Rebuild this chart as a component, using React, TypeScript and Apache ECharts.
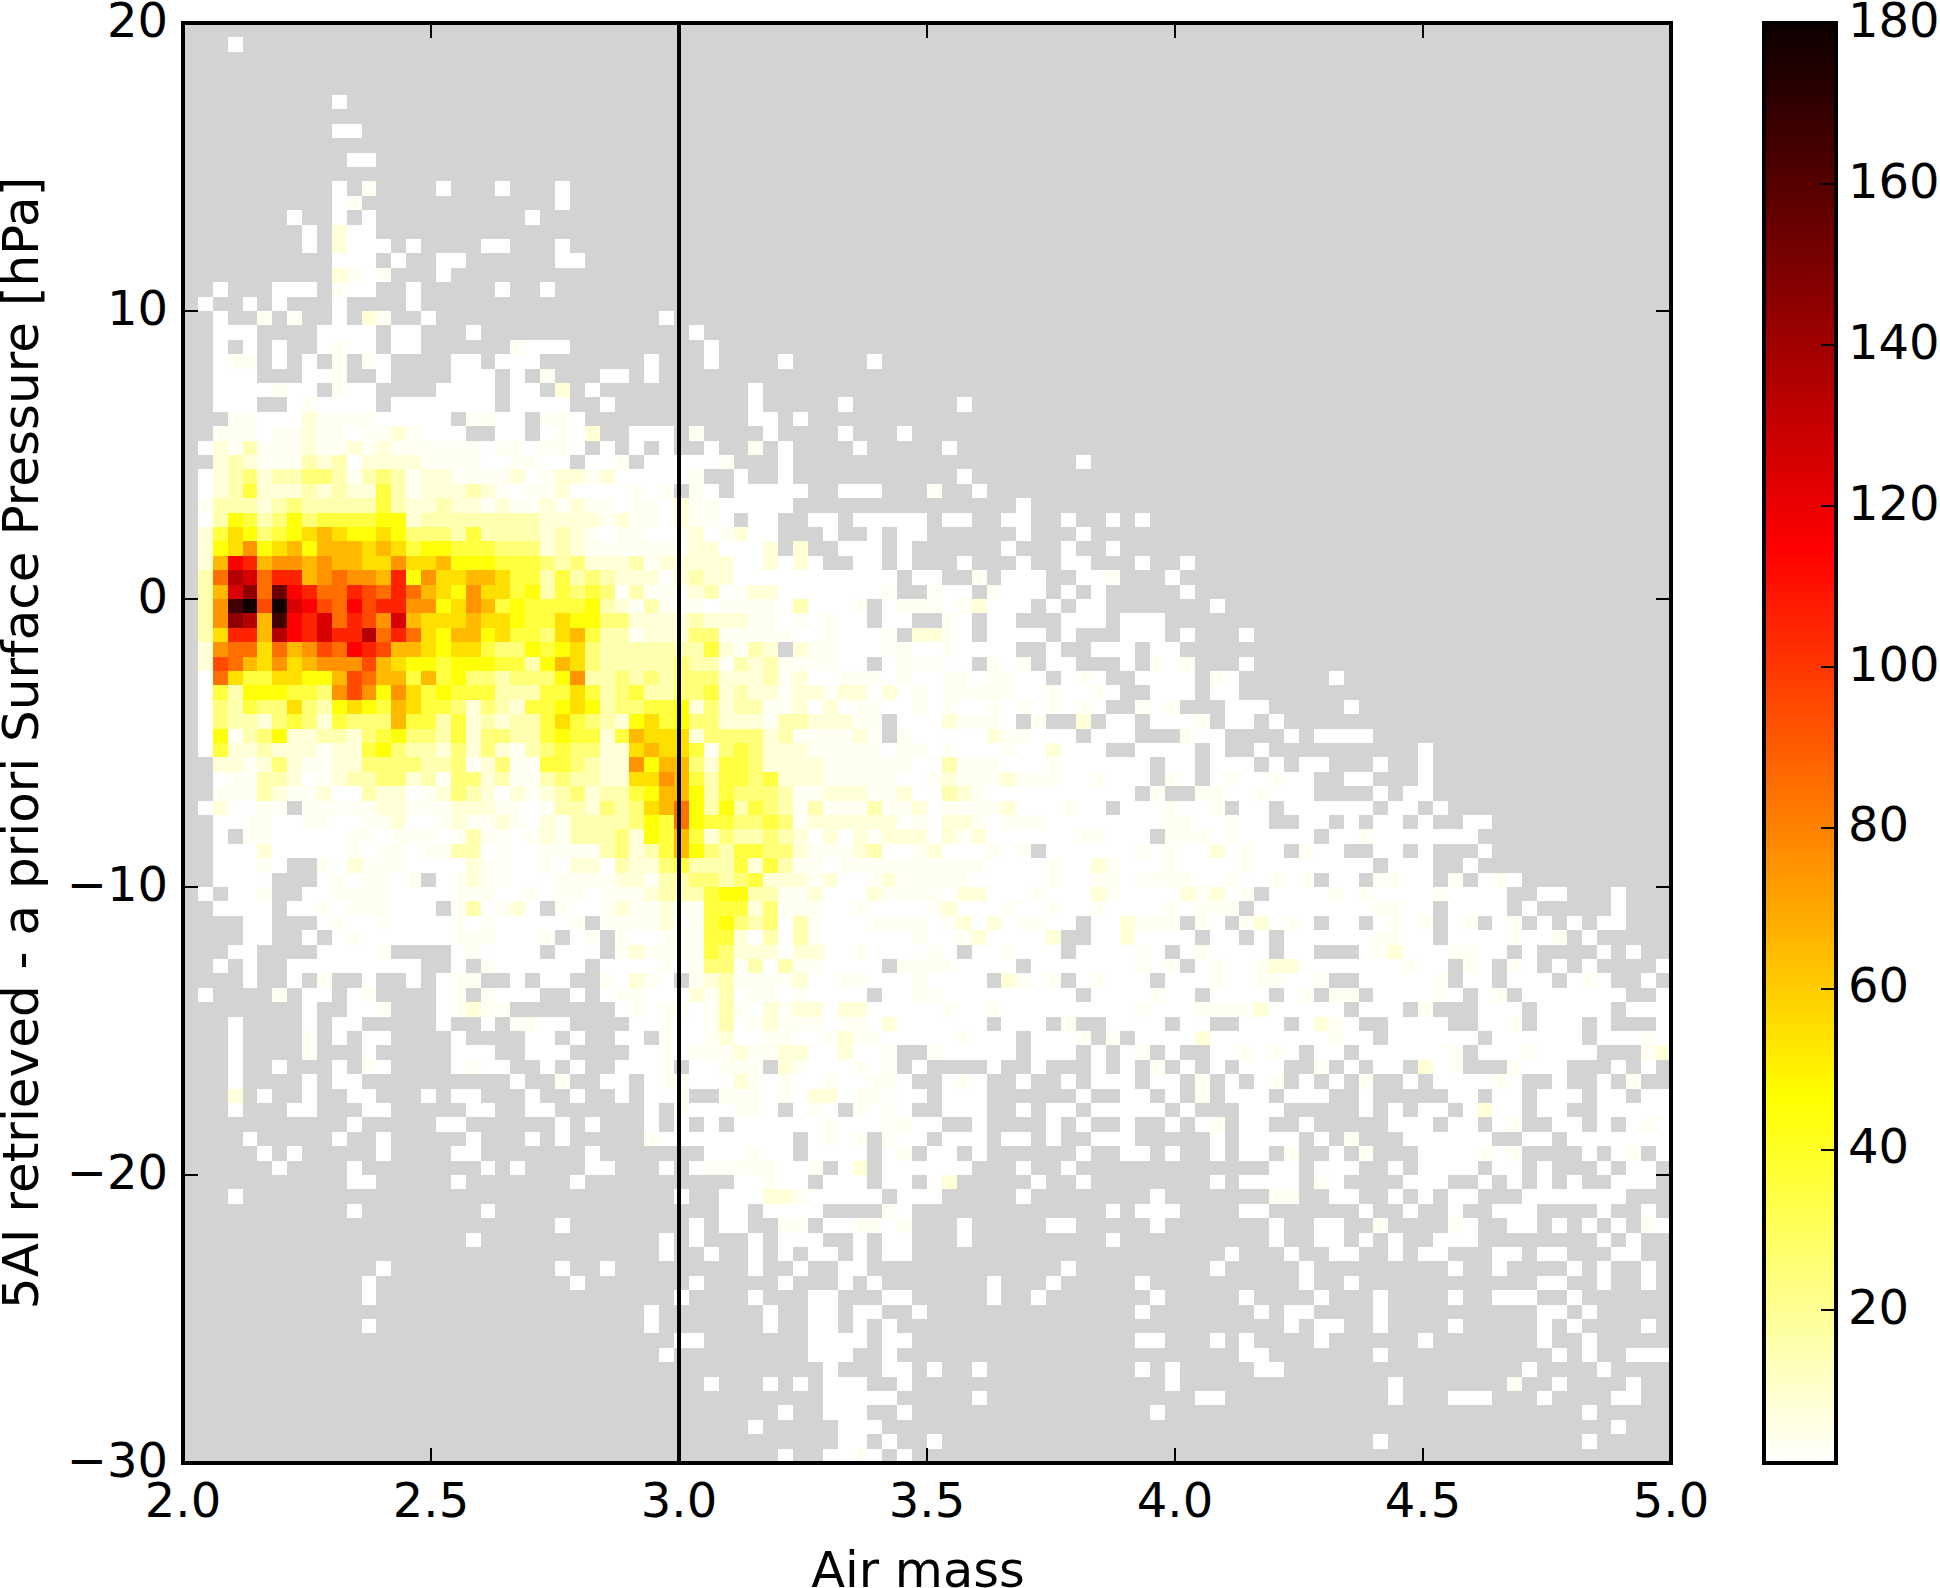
import React, { useEffect, useRef } from "react";
import * as echarts from "echarts";

const X_TICKS_MIN = 2;
const X_TICKS_MAX = 5;
const Y_TICKS_MIN = -30;
const Y_TICKS_MAX = 20;
const BIN_W = 0.03;
const BIN_H = 0.5;
const COLORBAR_TICKS = [20, 40, 60, 80, 100, 120, 140, 160, 180];
const X_LABEL = "Air mass";
const Y_LABEL = "5AI retrieved - a priori Surface Pressure [hPa]";

// counts per level code
const LEVEL_VALUES: Record<string, number> = {
  "0": 1, "1": 3, "2": 8, "3": 15, "4": 25, "5": 35, "6": 45, "7": 55, "8": 65, "9": 75,
  a: 85, b: 95, c: 105, d: 115, e: 125, f: 135, g: 145, h: 155, i: 165, j: 178,
};

// one entry per row from y=20 downwards: "startColumn:levels", "." or absence = empty bin
const CELL_ROWS: string[] = [
  "",
  "3:0",
  "",
  "",
  "",
  "10:0",
  "",
  "10:00",
  "",
  "11:00",
  "",
  "10:0 12:1 17:0 21:0 25:0",
  "10:01 25:0",
  "7:0 10:0 12:0 23:0",
  "8:0 10:200",
  "8:0 10:2000 15:0 20:00 25:0",
  "10:000 14:0 17:00 25:00",
  "10:2101 17:0",
  "2:0 6:000 10:100 15:0 21:0 24:0",
  "1:0 4:0 6:0 10:0 15:0",
  "2:0 5:1 7:1 10:0 12:21 16:0 32:0",
  "2:000 9:0000 14:00 19:0 34:0",
  "2:0 4:0 6:0 9:0100 14:00 22:1000 35:0",
  "2:011 6:0 8:0 10:1 12:10 18:00 21:000 31:0 35:0 40:0 46:0",
  "2:000 8:001 13:0 18:000 22:0 24:1 28:00 31:0",
  "2:0000100 10:100 17:0000 22:00 25:2 27:0 38:0",
  "2:000 7:010000 14:0000000 22:0000 28:0 38:0 44:0 52:0",
  "3:110002111100000 19:1100 24:110 38:00 41:0",
  "2:11101121101121000 21:00 24:010 27:2 30:000 34:1 39:0 44:0 48:0",
  "1:02131112112121111110110110 28:0 30:0 32:0 35:0 38:1 40:0 45:0 51:0",
  "2:232111323022221111001100 27:001 31:000001 40:0 60:0",
  "1:02342334431343122111120122120000 33:01 37:0 40:0 52:0",
  "1:02352223232253122232101120000101 34:10 37:00000 44:000 50:1 53:0",
  "1:133323433333532232212112121101102 34:1100000 56:0",
  "1:036534645555662333333332222121102 34:110 38:00 42:00 45:00000 51:00 55:00 59:0 62:0 64:0",
  "1:2576456787 11:6676444353 21:3332321011 31:001 34:201200 43:0 46:0 48:00 56:0 60:0",
  "1:2679678688 11:8787566555 21:4442321111 31:111 34:220002 41:2 44:000 48:0 55:0 59:0 62:0",
  "1:28dc899898 11:8779778666 21:5554342223 31:122 34:222002020 45:00 48:0 52:0 56:0 59:00 64:0 67:0",
  "1:3afeacc89a 11:998c697788 21:7553534322 31:202 34:32200000000000 49:00 53:1 55:000 60:001 66:0",
  "1:38egahdcaa 11:cbaca87697 21:7563545413 31:111 34:23012200000001 50:100 54:1000 59:0 61:0 67:0",
  "1:39ijbjedba 11:dbcc996798 21:5655556321 31:311 34:101111030001 47:0111012000 58:0 60:00 69:0",
  "1:39gf8idcea 11:cb9e877787 21:7655766442 31:222 34:322211010100 47:00 51:10 54:00 59:000 63:000",
  "1:37cc8fdcec 11:cfaca76886 21:7554785331 31:222 34:44111110010001 49:2210 54:0000 59:0 63:000 67:0 71:0",
  "1:29aa7a89ba 11:dcb8876775 21:4465674333 31:333 34:352132 41:211000110010000 58:0 61:000 65:00",
  "1:2ba8797899 11:9b87665666 21:5536874333 31:334 34:331323111100 47:011100 54:101 58:00 63:0 65:101 71:0",
  "1:0a75577668 11:ba88585644 21:3444693343 31:434 34:442223120011101001101100 59:010 64:0000 69:10 77:0",
  "1:0536665549 11:b969756555 21:3335575345 31:334 34:45232212212202010111110010010 65:000 69:00",
  "1:0435447436 11:7658755424 21:3255676344 31:556 34:24233112020110 48:010100101010 60:10 64:101 70:000 78:0",
  "1:0433245425 11:4448553523 21:2335754326 31:756 34:4422213322211 48:00021110 57:1 60:2 62:00 65:000 68:1 70:00 73:0",
  "1:0613462233 11:2456443524 21:4335655258 31:777 34:2444423111121 48:100000211000 61:000 67:100 74:0 76:0000",
  "1:0522322212 11:2564332424 21:2134544227 31:877 34:5145422211111011010001002000 64:0000 69:0 72:0 83:0",
  "2:2212421122 12:4444334124 22:1155432296 32:88 34:4255422221111110031110001000000 66:00 69:000 73:0 75:00 80:0 83:0",
  "2:0113320123 12:3442314423 22:1134332277 32:98 34:5355452221111100121112111001000 66:10 69:0100100 78:00 83:0",
  "2:1113211200 12:3220124320 22:2123423356 32:88 34:635444311222112003210000000000 65:1 68:11001000 80:0 82:00",
  "1:020011.111 11:1122111222 21:1101332434 31:78a 34:6363543131113112011112000100 63:000 66:1001 71:00 74:000000 81:00 84:0",
  "2:0011001100 12:1120012112 22:1021333346 32:5a 34:6554454122222201022101110000000000 66:11 68:00100 75:00 78:0 80:00 83:0 86:00",
  "2:0.11000001 12:1011101311 22:0121333426 32:58 34:5243343202021222021200000011000 66:1110100000 77:0010000000",
  "2:0002000001 12:0110113301 22:0011113423 32:58 34:64355442111230012000101 58:0000001010020100 75:100 80:00 83:0 87:0",
  "2:00010..102 12:1110000211 22:0010220322 32:45 34:3335253110 44:1111111111 54:0000100210 64:0010000100 74:000000 81:000 86:0",
  "2:0000...010 12:1101.01211 22:0001111221 32:33 34:4434522212 44:0012111110 54:0000100110 64:1111001001 74:01 77:00 80:1100 85:1 87:010",
  "1:0.001..001 11:1110000111 21:0010110111 31:233 34:3566331120 44:0021111022 54:0001000210 64:00021201 73:0000 77:101 80:00001 85:0000 91:00 96:0",
  "2:0000.00101 12:11000.1301 22:20.100121121 34:1555241110 44:0100001200 54:0100100100 64:0010111 72:00000000 80:1100 85:0000 90:0 96:0",
  "4:00 9:01001 14:00001 19:01 21:000001 28:11112 33:0 34:1564340310 44:0011110120 54:201100.002 64:111 68:10 71:12010 77:00 80:0101 85:01 88:01 91:0 93:0 95:00",
  "4:00 8:0 10:01000000 18:111 21:0001 26:01 29:10011 34:1552030310 44:0000010012 54:00002..002 64:0000 69:00 72:0 74:000000 80:1100 85:0000 89:1001 94:0",
  "3:00 9:00001 18:010000 25:000 29:12111 34:1542220220 44:01000010.0 54:01000.0000 64:10 67:010000 74:00 79:012 82:000 85:11 87:00 90:0 95:0 97:0",
  "2:0 4:0 7:000000000 18:0 20:1000000 28:000010 34:1441303110 44:000.111100 54:00.0000000 64:101 68:01001 73:22 75:0000000 82:100 86:10 89:10 92:0 94:0 99:0",
  "4:0 7:0 9:1 12:0 15:0 17:011 22:0 24:00 28:10210 34:1231111200 44:1100010000 54:.2101.0100 64:0 66:00010011001 79:000001 86:00 89:000 93:010 98:0",
  "1:0 6:1 8:00 11:01 17:01 20:1000 26:0 28:011000 34:2130110100 44:00.0011000 54:000000.000 64:0100 69:0000 74:01 77:11 80:000010 87:01 90:0000000 99:0",
  "8:0 11:001 17:01211 29:01011 34:0131021220 44:2200000100 54:1000000000 64:1000 68:1111200000 79:000 83:1 87:000 91:00000 97:000",
  "3:0 8:0 10:00 17:0 20:0 22:1100 30:0010 34:0130121110 44:1102000000 55:000 59:1 62:0000 67:00 71:000 75:0210 81:0000 87:001 91:000 95:0 99:0",
  "3:0 8:1 10:0 12:00 18:0 23:00 26:0 29:00 32:10 34:0120011001 44:2110000010 54:00.0001.1. 64:0000 68:200000000 77:100 81:000000 88:000000 95:00010",
  "3:0 8:1 12:0 18:000 23:000 30:0010 34:1112112200 44:2001..1000 54:00.000.0.0 64:1 66:0 69:001010 76:00 79:000000 85:1 87:0001 91:0000 98:12",
  "3:0 6:0 10:0 12:10 18:0100 24:0 26:0 29:0001 34:00111.2100 44:0101.0.... 54:0..0...0.0 65:1 67:0 69:0 71:000 76:1 78:0 80:00 83:201 89:1000 96:0 98:0",
  "3:0 8:0 10:00 22:0 25:1 28:00 31:011 34:0002101001 44:00110..010 54:..0..0.000 65:00 68:1 70:0 72:01 75:0 77:0 79:1 82:0 84:000010 92:0 95:0 97:1",
  "3:2 5:0 8:0 11:00 16:0 18:00 23:0 26:0 29:0 31:001 34:..11101022 44:011000.000 54:......0..0 64:0 66:0 68:1 70:000 74:000 79:0 85:00 88:00 91:000 95:00 98:00",
  "3:0 7:00 12:00 19:00 23:00 31:0 33:1 34:000110.010 44:.1010..000 54:..0.00.000 64:00 67:0 71:000 79:0 81:0 83:00 86:0200 91:00 95:00000",
  "11:0 17:00 25:0 27:0 31:0 33:0 34:.0.0000001 44:0001100..0 54:....0.0..0 66:0 68:01 71:00 75:0 81:000 85:00 88:01 92:00 95:0 97:010",
  "4:0 10:0 13:0 19:0 23:0 25:0 31:100 34:0000000.01 44:01.100.000 54:.00.0..000 69:0 71:0000 76:0 78:1 82:000000 90:00 93:0000000",
  "5:0 7:0 13:0 18:00 27:0 34:.000100.00 44:00.01.00.0 60:0 63:00 66:0 69:0 71:00 74:1 77:0 79:1 83:0000101 94:0 96:01 99:0",
  "6:0 11:0 20:0 22:0 27:00 32:0 34:011111001. 44:02.000000. 56:0 59:0 73:00 76:000 81:0 83:0000 88:00 91:0 95:0 97:00",
  "11:00 18:0 26:0 37:00100 43:000 47:00 50:02 57:0 60:0 69:0 71:0000 76:10 82:000 87:0 89:0 91:0 93:0 96:000",
  "3:0 33:0 36:000221 42:00000 48:000 56:0 65:0 73:11 77:00 81:0 83:0 85:00 90:0000000",
  "11:0 20:0 36:00 39:0000 47:10 62:0 64:000 71:00 79:0 82:0 85:0 88:000 95:0 98:0",
  "25:0 34:0 36:00 40:11 43:001101 52:0 58:00 65:0 73:0 76:00 80:1 85:10 89:00 92:0 94:0 96:0 98:10",
  "19:0 32:0 34:0 38:0 40:000 45:0 47:00 52:0 62:0 73:0 76:00 79:0 81:0 84:000 95:0 97:0",
  "32:0 35:0 38:0 40:0 42:00 45:0 47:00 70:0 74:0 77:00 81:0 83:00 88:00 91:00 96:00",
  "13:0 25:0 28:0 38:0 41:0 44:00 59:0 69:0 75:0 85:0 88:0 93:0 95:0 98:0",
  "12:0 26:0 34:0 40:0 44:0 46:0 54:0 58:0 64:0 75:0 78:0 91:00 95:0 98:0",
  "12:0 33:0 38:0 42:00 47:00 54:0 57:0 65:0 71:0 76:0 80:0 85:0 88:000 93:0",
  "31:0 39:0 42:00 45:00 49:0 64:0 72:0 74:00 80:0 91:00 94:0",
  "12:0 31:0 39:0 42:00 45:0 47:0 74:0 76:00 80:0 85:0 91:0 93:0 98:0",
  "33:00 42:0000 47:00 64:00 69:0 71:0 76:0 83:0 91:0 94:0",
  "32:0 42:000 47:0 71:00 80:0 92:0 94:0 97:000",
  "43:0 47:00 50:0 53:0 64:0 66:0 72:00 90:0 95:0",
  "35:0 39:0 41:0 43:000 48:0 66:0 81:0 89:1 92:0 97:0",
  "43:00000 53:0 68:00 81:0 85:000 91:0 96:00",
  "40:0 43:000 48:0 65:0 94:0",
  "38:0 44:000 96:0",
  "44:00 47:0 50:0 80:0 94:0",
  "40:0 43:0010 48:0",
];

// x (left edge), y (top edge), count
const cells: number[][] = [];
CELL_ROWS.forEach((row, k) => {
  row.split(" ").filter(Boolean).forEach((seg) => {
    const [start, codes] = seg.split(":");
    [...codes].forEach((code, i) => {
      if (code === ".") return;
      const col = Number(start) + i;
      cells.push([X_TICKS_MIN + col * BIN_W, Y_TICKS_MAX - k * BIN_H, LEVEL_VALUES[code]]);
    });
  });
});

const V_MIN = 1;
const V_MAX = 180;
const clamp = (v: number) => Math.max(0, Math.min(1, v));
function hotR(value: number): string {
  const x = 1 - clamp((value - V_MIN) / (V_MAX - V_MIN));
  const r = clamp(0.0416 + (x / 0.365) * 0.9584);
  const g = clamp((x - 0.365) / 0.381);
  const b = clamp((x - 0.746) / 0.254);
  const h = (c: number) => Math.round(c * 255);
  return `rgb(${h(r)},${h(g)},${h(b)})`;
}

const FONT = "DejaVu Sans";
const TICK_FONT_SIZE = 48;
const X_TITLE_FONT_SIZE = 49.4;
const Y_TITLE_FONT_SIZE = 50;
const SPINE = { color: "#000", width: 4, cap: "square" as const };
const TICK = { inside: true, length: 15, lineStyle: { color: "#000", width: 2 } };
const AXIS_BASE = { type: "value" as const, z: 10, splitLine: { show: false } };

function frameAxis(extra: object) {
  return {
    ...AXIS_BASE,
    axisLine: { show: true, onZero: false, lineStyle: SPINE },
    ...extra,
  };
}

export default function App() {
  const ref = useRef<HTMLDivElement>(null);
  useEffect(() => {
    const chart = echarts.init(ref.current!, undefined, { renderer: "svg" });
    const xRange = { min: X_TICKS_MIN, max: X_TICKS_MAX, interval: 0.5 };
    const yRange = { min: Y_TICKS_MIN, max: Y_TICKS_MAX, interval: 10 };
    const cbX = { min: 0, max: 1 };
    const cbY = { min: V_MIN, max: V_MAX };
    const noMarks = { axisTick: { show: false }, axisLabel: { show: false } };
    chart.setOption({
      animation: false,
      backgroundColor: "#fff",
      textStyle: { fontFamily: FONT },
      grid: [
        { left: 183, top: 23, width: 1488, height: 1440, show: true, backgroundColor: "#d3d3d3", borderWidth: 0, containLabel: false, outerBoundsMode: "none" },
        { left: 1764, top: 23, width: 72, height: 1440, show: false, containLabel: false, outerBoundsMode: "none" },
      ],
      xAxis: [
        frameAxis({
          ...xRange, gridIndex: 0, position: "bottom",
          axisTick: TICK,
          axisLabel: { fontFamily: FONT, fontSize: TICK_FONT_SIZE, color: "#000", margin: 13, formatter: (v: number) => v.toFixed(1), hideOverlap: false, showMinLabel: true, showMaxLabel: true },
          name: X_LABEL, nameLocation: "middle", nameGap: 82,
          nameTextStyle: { fontFamily: FONT, fontSize: X_TITLE_FONT_SIZE, color: "#000", padding: [0, 18, 0, 0] },
        }),
        frameAxis({ ...xRange, gridIndex: 0, position: "top", axisTick: TICK, axisLabel: { show: false } }),
        frameAxis({ ...cbX, gridIndex: 1, position: "bottom", ...noMarks }),
        frameAxis({ ...cbX, gridIndex: 1, position: "top", ...noMarks }),
      ],
      yAxis: [
        frameAxis({
          ...yRange, gridIndex: 0, position: "left",
          axisTick: TICK,
          axisLabel: { fontFamily: FONT, fontSize: TICK_FONT_SIZE, color: "#000", margin: 15, formatter: (v: number) => String(v).replace("-", "\u2212"), showMinLabel: true, showMaxLabel: true, verticalAlign: "bottom", lineHeight: 6 },
          name: Y_LABEL, nameLocation: "middle", nameGap: 137, nameRotate: 90,
          nameTextStyle: { fontFamily: FONT, fontSize: Y_TITLE_FONT_SIZE, color: "#000" },
        }),
        frameAxis({ ...yRange, gridIndex: 0, position: "right", axisTick: TICK, axisLabel: { show: false } }),
        frameAxis({ ...cbY, gridIndex: 1, position: "left", ...noMarks }),
        frameAxis({
          ...cbY, gridIndex: 1, position: "right",
          axisTick: { ...TICK, customValues: COLORBAR_TICKS },
          axisLabel: { customValues: COLORBAR_TICKS, fontFamily: FONT, fontSize: TICK_FONT_SIZE, color: "#000", margin: 12, verticalAlign: "bottom", lineHeight: 6, align: "left" },
        }),
      ],
      series: [
        {
          type: "custom",
          xAxisIndex: 0,
          yAxisIndex: 0,
          clip: true,
          z: 2,
          data: cells,
          renderItem: (_p: unknown, api: any) => {
            const x = api.value(0);
            const y = api.value(1);
            const a = api.coord([x, y]);
            const b = api.coord([x + BIN_W, y - BIN_H]);
            const x0 = Math.round(a[0]);
            const y0 = Math.round(a[1]);
            return {
              type: "rect",
              shape: { x: x0, y: y0, width: Math.round(b[0]) - x0, height: Math.round(b[1]) - y0 },
              style: { fill: hotR(api.value(2)), stroke: "none" },
              silent: true,
            };
          },
        },
        {
          type: "line",
          xAxisIndex: 0,
          yAxisIndex: 0,
          z: 5,
          symbol: "none",
          silent: true,
          lineStyle: { color: "#000", width: 4 },
          data: [[3, Y_TICKS_MIN], [3, Y_TICKS_MAX]],
        },
        {
          type: "custom",
          xAxisIndex: 2,
          yAxisIndex: 2,
          z: 2,
          data: [[0, V_MAX, V_MIN]],
          renderItem: (_p: unknown, api: any) => {
            const a = api.coord([0, V_MAX]);
            const b = api.coord([1, V_MIN]);
            return {
              type: "rect",
              shape: { x: a[0], y: a[1], width: b[0] - a[0], height: b[1] - a[1] },
              style: {
                fill: new echarts.graphic.LinearGradient(0, 0, 0, 1, [
                  { offset: 0, color: hotR(V_MAX) },
                  { offset: 0.365, color: "#ff0000" },
                  { offset: 0.746, color: "#ffff00" },
                  { offset: 1, color: "#ffffff" },
                ]),
              },
              silent: true,
            };
          },
        },
      ],
    });
    return () => chart.dispose();
  }, []);
  return (
    <div
      ref={ref}
      style={{ position: "fixed", left: 0, top: 0, width: 1940, height: 1588, background: "#fff" }}
    />
  );
}
